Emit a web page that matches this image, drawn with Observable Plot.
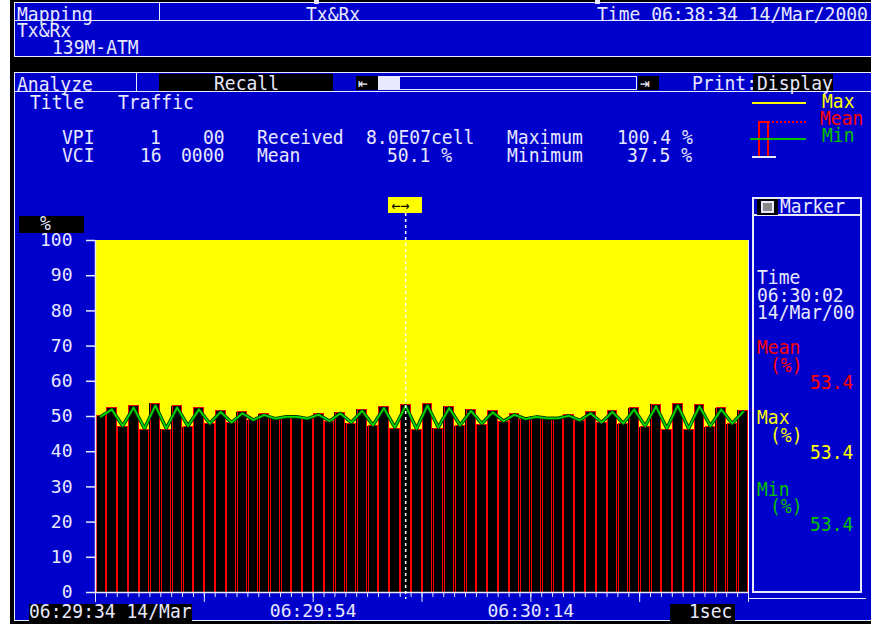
<!DOCTYPE html>
<html><head><meta charset="utf-8">
<script src="https://cdn.jsdelivr.net/npm/d3@7"></script>
<script src="https://cdn.jsdelivr.net/npm/@observablehq/plot@0.6"></script>
<style>
body{margin:0;background:#fff;}
#scr{position:relative;width:871px;height:624px;overflow:hidden;background:#fff;font-family:"DejaVu Sans Mono",monospace;font-size:18px;color:#e8e8ff;}
.t{position:absolute;white-space:pre;line-height:12px;transform:scaleY(1.12);transform-origin:0 0;}
.b{position:absolute;box-sizing:border-box;}
#plot{position:absolute;left:0;top:0;}
</style></head>
<body><div id="scr"></div>
<script>
// ---- data ----
const seconds = [0,1,2,3,4,5,6,7,8,9,10,11,12,13,14,15,16,17,18,19,20,21,22,23,24,25,26,27,28,29,
  30,31,32,33,34,35,36,37,38,39,40,41,42,43,44,45,46,47,48,49,50,51,52,53,54,55,56,57,58,59];
const meanPct = [50.2,52.4,47.0,52.9,46.2,53.6,46.2,52.9,47.0,52.4,47.8,51.6,48.1,51.2,48.9,50.6,49.3,50.0,50.0,49.3,
  50.7,48.5,51.1,48.0,51.9,47.2,52.8,46.5,53.4,46.1,53.5,46.5,52.8,47.2,51.9,47.7,51.5,48.5,50.7,49.2,
  50.0,49.5,49.5,50.4,48.8,51.2,48.1,51.6,47.8,52.4,47.0,53.3,46.2,53.6,46.2,53.3,47.0,52.4,47.8,51.6];
const minPct = [50.0,52.0,47.3,52.5,46.6,53.1,46.6,52.5,47.3,52.0,48.0,51.3,48.3,50.9,49.0,50.4,49.4,49.9,49.9,49.4,
  50.5,48.7,50.9,48.3,51.6,47.5,52.4,46.9,53.0,46.5,53.1,46.9,52.4,47.5,51.6,48.0,51.2,48.7,50.5,49.3,
  49.9,49.5,49.5,50.2,48.9,50.9,48.3,51.3,48.0,52.0,47.3,52.9,46.6,53.1,46.6,52.9,47.3,52.0,48.0,51.3];
const maxPct = [100,100,100,100,100,100,100,100,100,100,100,100,100,100,100,100,100,100,100,100,
  100,100,100,100,100,100,100,100,100,100,100,100,100,100,100,100,100,100,100,100,
  100,100,100,100,100,100,100,100,100,100,100,100,100,100,100,100,100,100,100,100];
const yTicks = [0,10,20,30,40,50,60,70,80,90,100];
const majorTicks = [0,10,20,30,40,50,60];
const minorTicks = [0,1,2,3,4,5,6,7,8,9,10,11,12,13,14,15,16,17,18,19,20,21,22,23,24,25,26,27,28,29,30,
  31,32,33,34,35,36,37,38,39,40,41,42,43,44,45,46,47,48,49,50,51,52,53,54,55,56,57,58,59,60];
const timeLabelTicks = [20,40];
const timeLabels = ["06:29:54","06:30:14"];
const startLabel = "06:29:34 14/Mar";
const markerSec = 28;
const markerTime = "06:30:02";
const markerDate = "14/Mar/00";
const markerMean = "53.4", markerMax = "53.4", markerMin = "53.4";

const BLUE = "#0000cc", WH = "#e8e8ff", YEL = "#ffff00", RED = "#ff0000", GRN = "#00c000";

// ---- chrome ----
const scr = document.getElementById("scr");
function box(x,y,w,h,style){const d=document.createElement("div");d.className="b";Object.assign(d.style,{left:x+"px",top:y+"px",width:w+"px",height:h+"px"},style||{});scr.appendChild(d);return d;}
function txt(s,x,y,color,extra){const d=document.createElement("div");d.className="t";d.textContent=s;Object.assign(d.style,{left:x+"px",top:(y+3)+"px",color:color||WH},extra||{});scr.appendChild(d);return d;}

box(10,0,861,624,{background:"#000"});
// top panel
box(14,2,860,55,{background:BLUE,border:"1px solid "+WH});
box(14,20,860,1,{background:WH});
box(159,2,1,19,{background:WH});
box(314,0,5,4,{background:WH});
box(595,0,5,4,{background:WH});
txt("Mapping",17,5);
txt("Tx&Rx",306,5);
txt("Time 06:38:34 14/Mar/2000",597,5);
txt("Tx&Rx",17,21);
txt("139M-ATM",52,38);
// main panel
box(14,72,860,549,{background:BLUE,border:"1px solid "+WH});
box(14,91,860,1,{background:WH});
box(136,72,1,19,{background:WH});
txt("Analyze",17,75);
box(159,74,174,17,{background:"#000"});
txt("Recall",214,74);
box(356,76,22,14,{background:"#000"});
txt("⇤",358,74,WH,{fontSize:"16px"});
box(378,76,21,14,{background:WH});
box(399,76,238,14,{border:"1px solid "+WH});
box(638,76,21,14,{background:"#000"});
txt("⇥",640,74,WH,{fontSize:"16px"});
txt("Print:",692,74);
box(753,74,80,17,{background:"#000"});
txt("Display",757,74);
txt("Title",30,93);
txt("Traffic",118,93);
txt("VPI",62,128); txt("1",150,128); txt("00",203,128); txt("Received",257,128); txt("8.0E07cell",366,128); txt("Maximum",507,128); txt("100.4 %",617,128);
txt("VCI",62,146); txt("16",140,146); txt("0000",181,146); txt("Mean",257,146); txt("50.1 %",387,146); txt("Minimum",507,146); txt("37.5 %",627,146);
// legend
box(752,102,54,2,{background:YEL});
txt("Max",822,92,YEL);
box(768,121,38,0,{borderTop:"2px dotted "+RED});
box(758,121,11,37,{borderLeft:"2px solid "+RED,borderTop:"2px solid "+RED,borderRight:"2px solid "+RED});
txt("Mean",820,109,RED);
box(750,138,56,2,{background:GRN});
txt("Min",822,126,GRN);
box(752,156,24,2,{background:WH});
// % unit box
box(19,216,65,17,{background:"#000"});
txt("%",40,214);
// marker panel
box(748,240,118,359,{borderLeft:"1px solid "+WH,borderBottom:"1px solid "+WH});
box(752,197,110,396,{border:"2px solid "+WH});
box(752,214,110,2,{background:WH});
box(757,199,21,16,{background:"#000"});
box(761,201,13,12,{border:"2px solid "+WH,background:"#888"});
txt("Marker",780,197);
txt("Time",757,268);
txt(markerTime,757,286);
txt(markerDate,757,303);
txt("Mean",757,338,RED);
txt("(%)",770,356,RED);
txt(markerMean,810,373,RED);
txt("Max",757,408,YEL);
txt("(%)",770,426,YEL);
txt(markerMax,810,443,YEL);
txt("Min",757,480,GRN);
txt("(%)",770,497,GRN);
txt(markerMin,810,515,GRN);
// bottom label boxes
box(29,604,163,17,{background:"#000"});
txt(startLabel,29,602);
box(670,604,65,17,{background:"#000"});
txt("1sec",689,602);

// ---- chart ----
const rows = seconds.map((s,i)=>({s, max:maxPct[i], mean:meanPct[i], min:minPct[i]}));
const chart = Plot.plot({
  width:871, height:624,
  marginLeft:95, marginRight:123, marginTop:240, marginBottom:32,
  x:{domain:[0,60], label:null, axis:null},
  y:{domain:[0,100], label:null, axis:null},
  style:{background:"transparent", fontFamily:"DejaVu Sans Mono", fontSize:"18px", color:WH, overflow:"visible"},
  marks:[
    Plot.rectY(rows,{x1:"s", x2:d=>d.s+1, y:"max", fill:YEL, shapeRendering:"crispEdges"}),
    Plot.rectY(rows,{x1:"s", x2:d=>d.s+1, y:"mean", fill:"#000", shapeRendering:"crispEdges"}),
    Plot.rectY(rows,{x1:"s", x2:d=>d.s+1, y:"mean", fill:"none", stroke:RED, strokeWidth:1, insetLeft:1, insetRight:0.5, shapeRendering:"crispEdges"}),
    Plot.line(rows,{x:d=>d.s+0.5, y:"min", stroke:"#004000", strokeWidth:3.5}),
    Plot.line(rows,{x:d=>d.s+0.5, y:"min", stroke:"#00e000", strokeWidth:1.6}),
    Plot.ruleX([0],{stroke:WH, strokeWidth:1.5}),
    Plot.ruleY([0],{stroke:WH, strokeWidth:1.5}),
    Plot.ruleX([markerSec+0.5],{stroke:"#fff", strokeWidth:1.5, strokeDasharray:"3,3", insetTop:-27, insetBottom:-7}),
    Plot.axisY(yTicks,{anchor:"left", tickSize:9, tickPadding:14, stroke:WH, fill:WH, strokeWidth:1.5, label:null}),
    Plot.axisX(minorTicks,{anchor:"bottom", tickSize:5, tickFormat:()=>"", stroke:WH, label:null}),
    Plot.axisX(majorTicks,{anchor:"bottom", tickSize:10, tickFormat:()=>"", stroke:WH, label:null}),
    Plot.axisX(timeLabelTicks,{anchor:"bottom", tickSize:0, tickPadding:12, tickFormat:d=>timeLabels[timeLabelTicks.indexOf(d)], fill:WH, label:null})
  ]
});
chart.id = "plot";
scr.appendChild(chart);
// marker flag positioned with the x scale
const mx = chart.scale("x").apply(markerSec+0.5);
box(mx-17,197,34,16,{background:YEL});
txt("←→",mx-14,196,"#000",{fontSize:"15px"});
</script>
</body></html>
